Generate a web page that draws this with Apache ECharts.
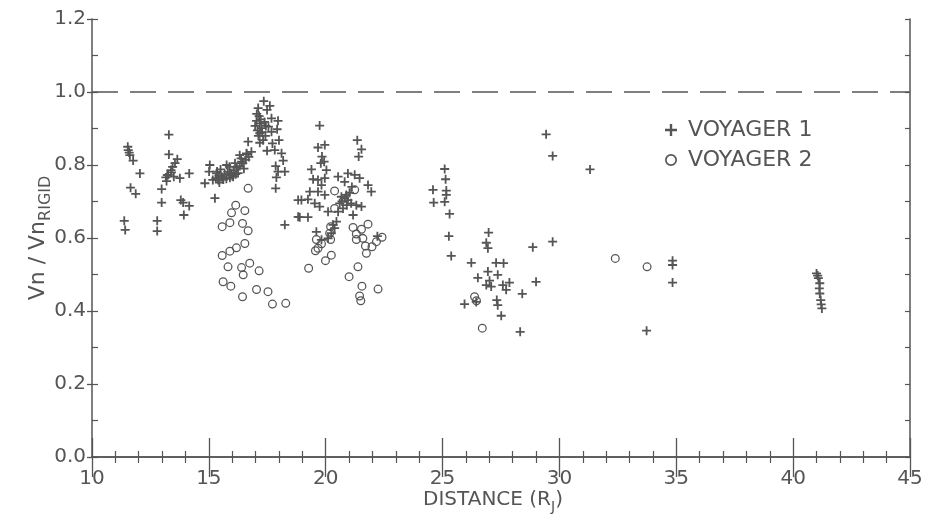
<!DOCTYPE html>
<html>
<head>
<meta charset="utf-8">
<script src="https://cdn.jsdelivr.net/npm/echarts@6/dist/echarts.min.js"></script>
<style>
html,body{margin:0;padding:0;background:#fff;}
#chart{width:930px;height:516px;}
</style>
</head>
<body>
<div id="chart"></div>
<script>
// ---- data (distance in Jupiter radii, Vn / Vn rigid) ----
var seriesNames = ['VOYAGER 1', 'VOYAGER 2'];
var xTicks = [10, 15, 20, 25, 30, 35, 40, 45];
var yTicks = ['0.0', '0.2', '0.4', '0.6', '0.8', '1.0', '1.2'];
var rigidLevel = 1.0;

var voyager1 = [
  [11.53,0.850],[11.55,0.841],[11.59,0.834],[11.62,0.827],[11.76,0.812],[12.05,0.777],[11.65,0.738],[11.87,0.721],[11.38,0.647],[11.42,0.622],
  [13.29,0.883],[13.29,0.829],[13.65,0.816],[13.55,0.805],[13.45,0.795],[13.38,0.786],[13.26,0.773],[13.16,0.766],[13.19,0.756],[13.50,0.768],
  [13.76,0.764],[14.16,0.777],[12.98,0.734],[12.98,0.697],[13.80,0.704],[13.90,0.697],[14.16,0.688],[13.93,0.663],[12.79,0.647],[12.79,0.619],
  [13.22,0.772],[13.40,0.780],
  [14.83,0.750],[15.01,0.782],[15.04,0.800],[15.26,0.709],
  [15.17,0.759],[15.30,0.764],[15.43,0.770],[15.56,0.767],[15.68,0.775],[15.81,0.781],[15.94,0.778],[16.07,0.786],[16.20,0.792],[16.32,0.797],
  [16.45,0.805],[16.58,0.814],[16.71,0.822],[15.35,0.782],[15.50,0.788],[15.62,0.760],[15.75,0.762],[15.88,0.795],[16.00,0.770],[16.12,0.805],
  [16.25,0.778],[16.38,0.818],[16.50,0.790],[16.62,0.830],[15.45,0.752],[15.90,0.765],[16.15,0.775],[16.04,0.768],[15.61,0.761],[15.40,0.759],
  [15.33,0.777],[15.76,0.800],
  [17.35,0.975],[17.11,0.956],[17.61,0.962],[17.49,0.951],[17.15,0.934],[17.04,0.921],[17.18,0.914],[16.98,0.907],[17.25,0.901],[17.44,0.907],
  [17.68,0.928],[17.96,0.921],[17.92,0.898],[17.68,0.891],[17.18,0.887],[17.32,0.868],[17.18,0.861],[18.00,0.868],[17.72,0.859],[17.49,0.839],
  [17.82,0.841],[16.68,0.864],[16.82,0.836],[16.61,0.832],[16.32,0.827],[16.40,0.809],[18.11,0.832],[18.18,0.812],[17.86,0.797],[17.96,0.782],
  [18.25,0.782],[17.89,0.766],[17.86,0.736],[17.08,0.895],[17.12,0.880],[17.28,0.890],[17.38,0.918],[17.05,0.940],[17.22,0.925],[17.55,0.905],
  [17.42,0.880],
  [18.25,0.636],[18.82,0.704],[18.82,0.658],
  [19.74,0.908],[19.67,0.848],[19.96,0.855],[19.84,0.823],[19.93,0.809],[19.79,0.805],[19.39,0.788],[20.03,0.786],[19.46,0.761],[19.67,0.759],
  [19.96,0.764],[19.82,0.745],[19.32,0.727],[19.67,0.727],[19.96,0.718],[18.96,0.704],[19.24,0.706],[19.53,0.695],[19.74,0.686],[18.89,0.657],
  [19.24,0.657],[19.60,0.617],[19.82,0.595],[20.10,0.672],[21.35,0.868],[21.53,0.843],[21.41,0.823],[20.95,0.777],[21.24,0.773],[21.45,0.764],
  [20.53,0.768],[20.81,0.754],[21.81,0.745],[21.95,0.727],[20.67,0.713],[20.81,0.709],[20.95,0.704],[20.60,0.695],[21.09,0.695],[21.53,0.686],
  [21.31,0.690],[20.74,0.681],[20.53,0.672],[21.17,0.663],[20.46,0.645],[20.31,0.636],[20.38,0.627],[20.24,0.613],[22.21,0.605],[20.10,0.599],
  [20.88,0.718],[21.02,0.724],[20.70,0.700],[21.12,0.740],[20.90,0.690],
  [25.09,0.789],[25.13,0.761],[24.59,0.732],[25.16,0.730],[25.16,0.718],[24.62,0.697],[25.09,0.699],[25.30,0.666],[25.27,0.605],[25.37,0.551],
  [26.97,0.615],[26.87,0.587],[26.94,0.572],[26.23,0.532],[27.29,0.532],[27.61,0.531],[26.94,0.508],[27.36,0.499],[26.51,0.491],[27.01,0.483],
  [26.87,0.471],[27.08,0.467],[27.58,0.471],[27.86,0.478],[27.72,0.458],[28.41,0.447],[29.00,0.480],[28.86,0.575],[29.71,0.590],[27.32,0.430],
  [27.36,0.416],[25.94,0.419],[26.44,0.425],[27.51,0.387],[28.32,0.343],[29.71,0.825],[29.43,0.884],[31.31,0.788],
  [34.84,0.538],[34.84,0.526],[34.84,0.478],[33.73,0.346],
  [41.00,0.503],[41.05,0.497],[41.08,0.490],[41.14,0.476],[41.12,0.462],[41.14,0.448],[41.18,0.430],[41.20,0.418],[41.23,0.407]
];

var voyager2 = [
  [16.68,0.736],[16.15,0.690],[16.54,0.675],[15.97,0.669],[16.44,0.640],[15.90,0.642],[15.57,0.631],[16.68,0.620],[16.54,0.585],[16.18,0.573],
  [15.90,0.564],[15.57,0.552],[15.82,0.521],[16.40,0.519],[16.75,0.531],[16.47,0.499],[17.15,0.510],[15.61,0.480],[15.94,0.468],[16.44,0.439],
  [17.04,0.459],[17.53,0.453],[17.72,0.419],[18.29,0.421],
  [20.38,0.729],[21.24,0.732],[20.38,0.681],[20.21,0.631],[20.17,0.613],[20.21,0.596],[19.60,0.596],[19.82,0.584],[19.67,0.572],[19.56,0.565],
  [20.24,0.553],[19.99,0.538],[19.27,0.517],[21.17,0.629],[21.53,0.624],[21.81,0.638],[21.31,0.611],[21.59,0.599],[21.31,0.596],[21.70,0.578],
  [21.98,0.576],[21.74,0.558],[22.17,0.590],[22.41,0.602],[21.38,0.521],[21.00,0.494],[21.55,0.468],[22.24,0.460],[21.45,0.441],[21.50,0.428],
  [26.37,0.439],[26.45,0.428],[26.70,0.353],[32.39,0.544],[33.75,0.521]
];

// ---- chart ----
var ink = '#555555';
var font = 'DejaVu Sans';
var plusPath = 'path://M4,0H6V4H10V6H6V10H4V6H0V4H4Z';
var ringPath = 'path://M5,0A5,5 0 1 1 4.999,0ZM5,1.4A3.6,3.6 0 1 0 5.001,1.4Z';

var chart = echarts.init(document.getElementById('chart'), null, {renderer: 'canvas'});
var option = {
  backgroundColor: '#ffffff',
  animation: false,
  textStyle: {fontFamily: font, color: ink},
  grid: {left: 92, right: 20, top: 19, bottom: 59, containLabel: false, outerBoundsMode: 'none'},
  legend: {
    orient: 'vertical',
    left: 660,
    top: 114,
    itemGap: 8,
    itemWidth: 12,
    itemHeight: 12,
    textStyle: {fontSize: 22, color: ink, fontFamily: font, padding: [0, 0, 0, 6]},
    data: [
      {name: seriesNames[0], icon: plusPath},
      {name: seriesNames[1], icon: ringPath, itemStyle: {color: ink}}
    ]
  },
  xAxis: [
    {
      type: 'value', position: 'bottom', min: xTicks[0], max: xTicks[xTicks.length - 1], interval: 5,
      name: '{a|DISTANCE (R}{s|J}{a|)}',
      nameLocation: 'middle', nameGap: 29, nameMoveOverlap: false,
      nameTextStyle: {padding: [0, 16, 0, 0], rich: {
        a: {fontSize: 20, color: ink, fontFamily: font, lineHeight: 28},
        s: {fontSize: 14, color: ink, fontFamily: font, lineHeight: 14, verticalAlign: 'bottom'}
      }},
      axisLine: {show: true, lineStyle: {color: ink, width: 1.5}},
      axisTick: {show: true, inside: true, length: 19, lineStyle: {color: ink, width: 1.3}},
      minorTick: {show: true, splitNumber: 5, length: 6, lineStyle: {color: ink, width: 1.2}},
      axisLabel: {show: true, margin: 12, fontSize: 20, color: ink, fontFamily: font,
        formatter: function (v) { return xTicks.indexOf(v) >= 0 ? String(v) : ''; }},
      splitLine: {show: false}
    },
    {
      type: 'value', position: 'top', min: xTicks[0], max: xTicks[xTicks.length - 1], interval: 5,
      axisLine: {show: true, lineStyle: {color: ink, width: 1.5}},
      axisTick: {show: true, inside: true, length: 20, lineStyle: {color: ink, width: 1.3}},
      minorTick: {show: true, splitNumber: 5, length: 6, lineStyle: {color: ink, width: 1.2}},
      axisLabel: {show: false},
      splitLine: {show: false}
    }
  ],
  yAxis: [
    {
      type: 'value', position: 'left', min: 0, max: 1.2, interval: 0.2,
      name: '{a|Vn / Vn}{s|RIGID}',
      nameLocation: 'middle', nameGap: 38, nameRotate: 90, nameMoveOverlap: false,
      nameTextStyle: {rich: {
        a: {fontSize: 22, color: ink, fontFamily: font, lineHeight: 32},
        s: {fontSize: 16, color: ink, fontFamily: font, lineHeight: 16, verticalAlign: 'bottom'}
      }},
      axisLine: {show: true, lineStyle: {color: ink, width: 1.5}},
      axisTick: {show: true, inside: false, length: 5, lineStyle: {color: ink, width: 1.3}},
      axisLabel: {show: true, margin: 6, fontSize: 20, color: ink, fontFamily: font,
        formatter: function (v) { return yTicks[Math.round(v / 0.2)] || ''; }},
      splitLine: {show: false}
    },
    {
      type: 'value', position: 'right', min: 0, max: 1.2, interval: 0.1,
      axisLine: {show: true, lineStyle: {color: ink, width: 1.5}},
      axisTick: {show: true, inside: true, length: 5, lineStyle: {color: ink, width: 1.2}},
      axisLabel: {show: false},
      splitLine: {show: false}
    },
    {
      type: 'value', position: 'left', min: 0, max: 1.2, interval: 0.1,
      axisLine: {show: false},
      axisTick: {show: true, inside: true, length: 6, lineStyle: {color: ink, width: 1.2}},
      axisLabel: {show: false},
      splitLine: {show: false}
    }
  ],
  series: [
    {
      name: seriesNames[0], type: 'scatter', xAxisIndex: 0, yAxisIndex: 0,
      symbol: plusPath, symbolSize: 9,
      itemStyle: {color: ink, opacity: 1},
      data: voyager1,
      markLine: {
        silent: true, symbol: ['none', 'none'], label: {show: false},
        lineStyle: {color: ink, type: [26, 12], width: 1.5},
        data: [{yAxis: rigidLevel}]
      }
    },
    {
      name: seriesNames[1], type: 'scatter', xAxisIndex: 0, yAxisIndex: 0,
      symbol: ringPath, symbolSize: 9,
      itemStyle: {color: ink, opacity: 1},
      data: voyager2
    }
  ]
};
chart.setOption(option);
</script>
</body>
</html>
